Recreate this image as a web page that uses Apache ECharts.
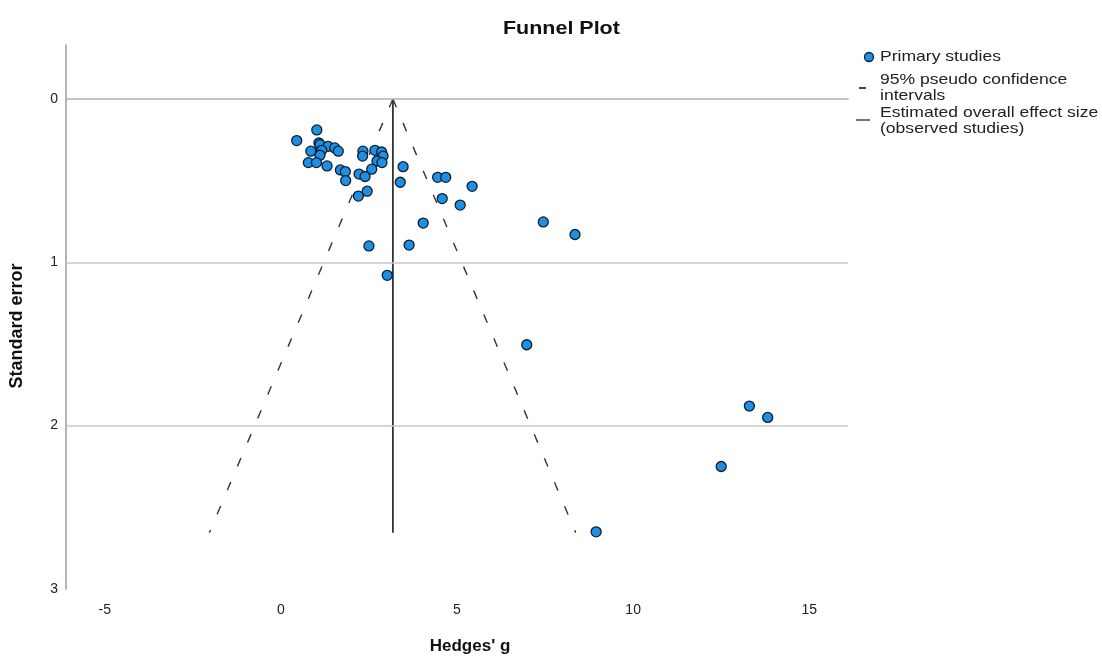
<!DOCTYPE html>
<html>
<head>
<meta charset="utf-8">
<script src="https://cdn.jsdelivr.net/npm/echarts@6/dist/echarts.min.js"></script>
<style>html,body{margin:0;padding:0;background:#fff}#chart{width:1102px;height:660px}</style>
</head>
<body>
<div id="chart"></div>
<script>
// Study effect sizes (Hedges' g) and their standard errors
const hedgesG = [0.45,1.02,1.08,1.11,1.34,1.53,1.63,0.85,1.16,1.11,0.78,1.01,1.31,1.69,1.83,1.84,
  2.33,2.32,2.67,2.86,2.90,2.73,2.87,2.58,2.22,2.39,2.45,2.20,3.47,3.39,4.45,4.68,5.43,4.58,5.09,
  4.04,2.50,3.64,3.02,7.45,8.35,6.98,13.30,13.82,12.50,8.95];
const stdErr = [0.255,0.19,0.27,0.28,0.29,0.30,0.32,0.32,0.315,0.345,0.39,0.39,0.41,0.435,0.445,0.50,
  0.32,0.35,0.315,0.325,0.35,0.38,0.39,0.43,0.46,0.475,0.565,0.595,0.415,0.51,0.48,0.48,0.535,0.61,0.65,
  0.76,0.90,0.895,1.08,0.753,0.83,1.505,1.88,1.95,2.25,2.65];
// Funnel: pooled estimate and 95% pseudo CI bounds at the largest SE
const pooledG = 3.18;
const funnelMaxSE = 2.655;
const ciLowerG = -2.03;
const ciUpperG = 8.37;
// Tick labels
const xTicks = [-5, 0, 5, 10, 15];
const yTicks = [0, 1, 2, 3];
const yGridLines = [0, 1, 2];

const FONT = '"Liberation Sans", Arial, sans-serif';
const chart = echarts.init(document.getElementById('chart'));
const points = hedgesG.map((g, i) => [g, stdErr[i]]);

chart.setOption({
  animation: false,
  backgroundColor: '#fff',
  grid: { left: 66, right: 254, top: 45, bottom: 66, containLabel: false },
  xAxis: {
    type: 'value', min: -6.1, max: 16.1,
    name: "Hedges' g", nameLocation: 'middle', nameGap: 49,
    nameTextStyle: { fontFamily: FONT, fontWeight: 'bold', fontSize: 17, color: '#111', padding: [0, 0, 0, 26] },
    axisLine: { show: true, lineStyle: { color: '#9a9a9a', width: 1.5 } },
    axisTick: { show: false },
    splitLine: { show: false },
    axisLabel: { customValues: xTicks, fontFamily: FONT, fontSize: 14, color: '#222', margin: 14 }
  },
  yAxis: {
    type: 'value', inverse: true, min: -0.33, max: 3,
    name: 'Standard error', nameLocation: 'middle', nameGap: 40, nameRotate: 90,
    nameTextStyle: { fontFamily: FONT, fontWeight: 'bold', fontSize: 18, color: '#111', padding: [0, 18, 0, 0] },
    axisLine: { show: true, onZero: false, lineStyle: { color: '#9a9a9a', width: 1.5 } },
    axisTick: { show: false },
    splitLine: { show: false },
    axisLabel: { customValues: yTicks, fontFamily: FONT, fontSize: 14, color: '#222', margin: 8, padding: [3, 0, 0, 0] }
  },
  series: [
    {
      name: 'gridlines', type: 'line', data: [], z: 1, silent: true,
      markLine: {
        silent: true, symbol: 'none', animation: false, label: { show: false },
        lineStyle: { color: '#c8c8c8', width: 1.5, type: 'solid' },
        data: yGridLines.map(v => ({ yAxis: v }))
      }
    },
    {
      name: '95% pseudo confidence intervals', type: 'line', z: 3, symbol: 'none', silent: true,
      data: [[pooledG, 0], [ciLowerG, funnelMaxSE]],
      lineStyle: { color: '#333', width: 1.4, type: [9, 17] }
    },
    {
      name: '95% pseudo confidence intervals upper', type: 'line', z: 3, symbol: 'none', silent: true,
      data: [[pooledG, 0], [ciUpperG, funnelMaxSE]],
      lineStyle: { color: '#333', width: 1.4, type: [9, 17] }
    },
    {
      name: 'Estimated overall effect size', type: 'line', z: 3, symbol: 'none', silent: true,
      data: [[pooledG, 0], [pooledG, funnelMaxSE]],
      lineStyle: { color: '#333', width: 1.8, type: 'solid' }
    },
    {
      name: 'Primary studies', type: 'scatter', z: 5, symbol: 'circle', symbolSize: 10,
      data: points,
      itemStyle: { color: '#1e8fe3', borderColor: '#0d1f2e', borderWidth: 1.3, opacity: 1 }
    }
  ],
  graphic: [
    { type: 'text', x: 503, y: 29, scaleX: 1.13, style: { text: 'Funnel Plot', font: 'bold 19px ' + FONT, fill: '#111', verticalAlign: 'middle' } },
    { type: 'circle', shape: { cx: 869, cy: 57, r: 4.5 }, style: { fill: '#1e8fe3', stroke: '#0d1f2e', lineWidth: 1.3 } },
    { type: 'text', x: 880, y: 57, scaleX: 1.17, style: { text: 'Primary studies', font: '15px ' + FONT, fill: '#222', verticalAlign: 'middle' } },
    { type: 'line', shape: { x1: 859, y1: 88, x2: 866, y2: 88 }, style: { stroke: '#444', lineWidth: 2 } },
    { type: 'text', x: 880, y: 72, scaleX: 1.17, style: { text: '95% pseudo confidence\nintervals', font: '15px ' + FONT, lineHeight: 16, fill: '#222' } },
    { type: 'line', shape: { x1: 856, y1: 120, x2: 870, y2: 120 }, style: { stroke: '#444', lineWidth: 1.5 } },
    { type: 'text', x: 880, y: 105, scaleX: 1.17, style: { text: 'Estimated overall effect size\n(observed studies)', font: '15px ' + FONT, lineHeight: 16, fill: '#222' } }
  ]
});
</script>
</body>
</html>
